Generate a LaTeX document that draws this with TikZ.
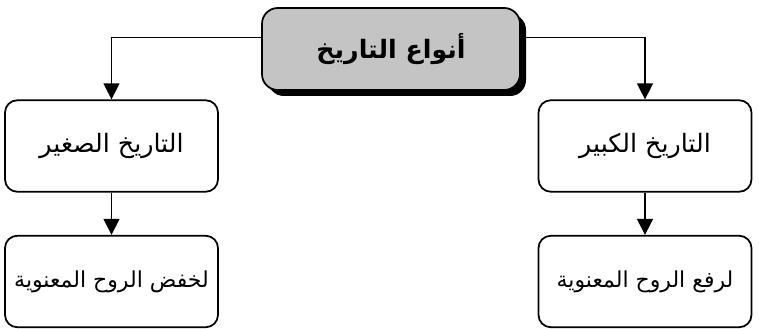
\documentclass[tikz,border=0pt]{standalone}
\usepackage{fontspec}
\usepackage{tikz}
\usetikzlibrary{arrows.meta,positioning,shadows}
\TeXXeTstate=1
\newfontfamily\arabicfont[Script=Arabic]{DejaVu Sans}
\newcommand{\ar}[1]{{\arabicfont\beginR #1\endR}}
\definecolor{titlegray}{RGB}{196,196,196}
\tikzset{
  link/.style={black,line width=0.8pt},
  flow/.style={link,-{Triangle[length=3.2mm,width=3.2mm]}},
  kindbox/.style={draw=black,line width=1pt,fill=white,rounded corners=7pt,
                  minimum width=4.26cm,minimum height=1.83cm,inner sep=3pt,
                  align=center,font=\Large},
  effectbox/.style={kindbox,font=\fontsize{12.5}{15}\selectfont},
  titlebox/.style={kindbox,fill=titlegray,minimum width=5.16cm,minimum height=1.64cm,
                   rounded corners=9pt,font=\Large\bfseries,
                   drop shadow={shadow xshift=1.2mm,shadow yshift=-1.2mm,
                                fill=black,opacity=1}},
}
\begin{document}
\begin{tikzpicture}[x=1cm,y=1cm]
  \path[use as bounding box] (0,0) rectangle (15.18,6.58);
  \node[titlebox] (kinds) at (7.82,5.60) {\ar{أنواع التاريخ}};

  \node[kindbox] (minor) at (2.23,3.66) {\ar{التاريخ الصغير}};
  \node[kindbox] (major) at (12.90,3.66) {\ar{التاريخ الكبير}};
  \node[effectbox] (lower) at (2.23,0.95) {\ar{لخفض الروح المعنوية}};
  \node[effectbox] (raise) at (12.90,0.95) {\ar{لرفع الروح المعنوية}};

  \draw[flow] ([yshift=2.3mm]kinds.west) -| (minor.north);
  \draw[flow] ([yshift=2.3mm]kinds.east) -| (major.north);
  \draw[flow] (minor) -- (lower);
  \draw[flow] (major) -- (raise);
\end{tikzpicture}
\end{document}
